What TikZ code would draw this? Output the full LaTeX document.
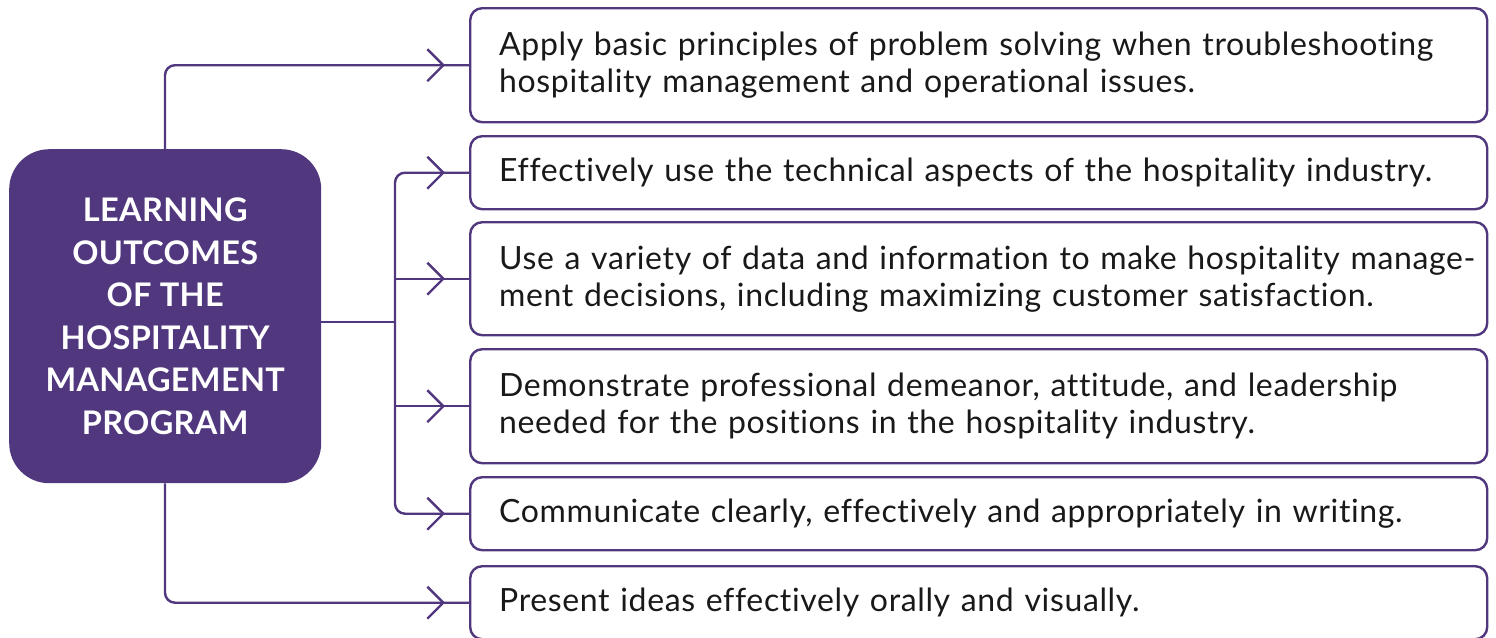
\documentclass[tikz,border=0pt]{standalone}
\usepackage{fontspec}
\setmainfont{Lato}[Ligatures={NoCommon},LetterSpace=2]
\newfontfamily\headfont{Lato}[LetterSpace=1]
\usetikzlibrary{arrows.meta,decorations.markings}
\definecolor{pur}{HTML}{50377E}
\begin{document}
\begin{tikzpicture}[x=1pt,y=-1pt,
  outbox/.style={draw=pur,line width=2.4pt,rounded corners=12pt,fill=white,
    anchor=north west,minimum width=1017pt,text width=959pt,inner xsep=29pt,inner ysep=0pt,
    align=left,font=\fontsize{32}{37}\selectfont,text=black!90},
  conn/.style={draw=pur,line width=2.4pt,rounded corners=10pt,
    postaction={decorate},decoration={markings,
      mark=at position -24pt with {\arrow[pur,line width=2.4pt]{Straight Barb[length=16pt,width=32pt]}}}},
  plain/.style={draw=pur,line width=2.4pt}]
\useasboundingbox (0,0) rectangle (1496,637);
\node[fill=pur,rounded corners=40pt,minimum width=312pt,minimum height=334pt,anchor=north west,
  align=center,text=white,font=\headfont\bfseries\fontsize{32.5}{42.5}\selectfont,inner sep=0pt]
  (L) at (9,149) {LEARNING\\OUTCOMES\\OF THE\\HOSPITALITY\\MANAGEMENT\\PROGRAM};
\node[outbox,minimum height=114pt] (b1) at (469,7) {\mbox{Apply basic principles of problem solving when troubleshooting}\\hospitality management and operational issues.};
\node[outbox,minimum height=73pt] (b2) at (469,135) {Effectively use the technical aspects of the hospitality industry.};
\node[outbox,minimum height=113pt] (b3) at (469,221) {\mbox{Use a variety of data and information to make hospitality manage-}\\ment decisions, including maximizing customer satisfaction.};
\node[outbox,minimum height=114pt] (b4) at (469,348) {Demonstrate professional demeanor, attitude, and leadership\\needed for the positions in the hospitality industry.};
\node[outbox,minimum height=73pt] (b5) at (469,476) {Communicate clearly, effectively and appropriately in writing.};
\node[outbox,minimum height=73pt] (b6) at (469,565) {Present ideas effectively orally and visually.};
\coordinate (tr) at (395,322);
\coordinate (tx) at (165,0);
\path[conn] (L.north -| tx) |- (b1.west);
\path[conn] (L.south -| tx) |- (b6.west);
\path[plain] (L.east |- tr) -- (tr);
\path[conn] (tr) |- (b2.west);
\path[conn] (tr) |- (b5.west);
\path[conn,rounded corners=0pt] (tr) |- (b3.west);
\path[conn,rounded corners=0pt] (tr) |- (b4.west);
\end{tikzpicture}
\end{document}
